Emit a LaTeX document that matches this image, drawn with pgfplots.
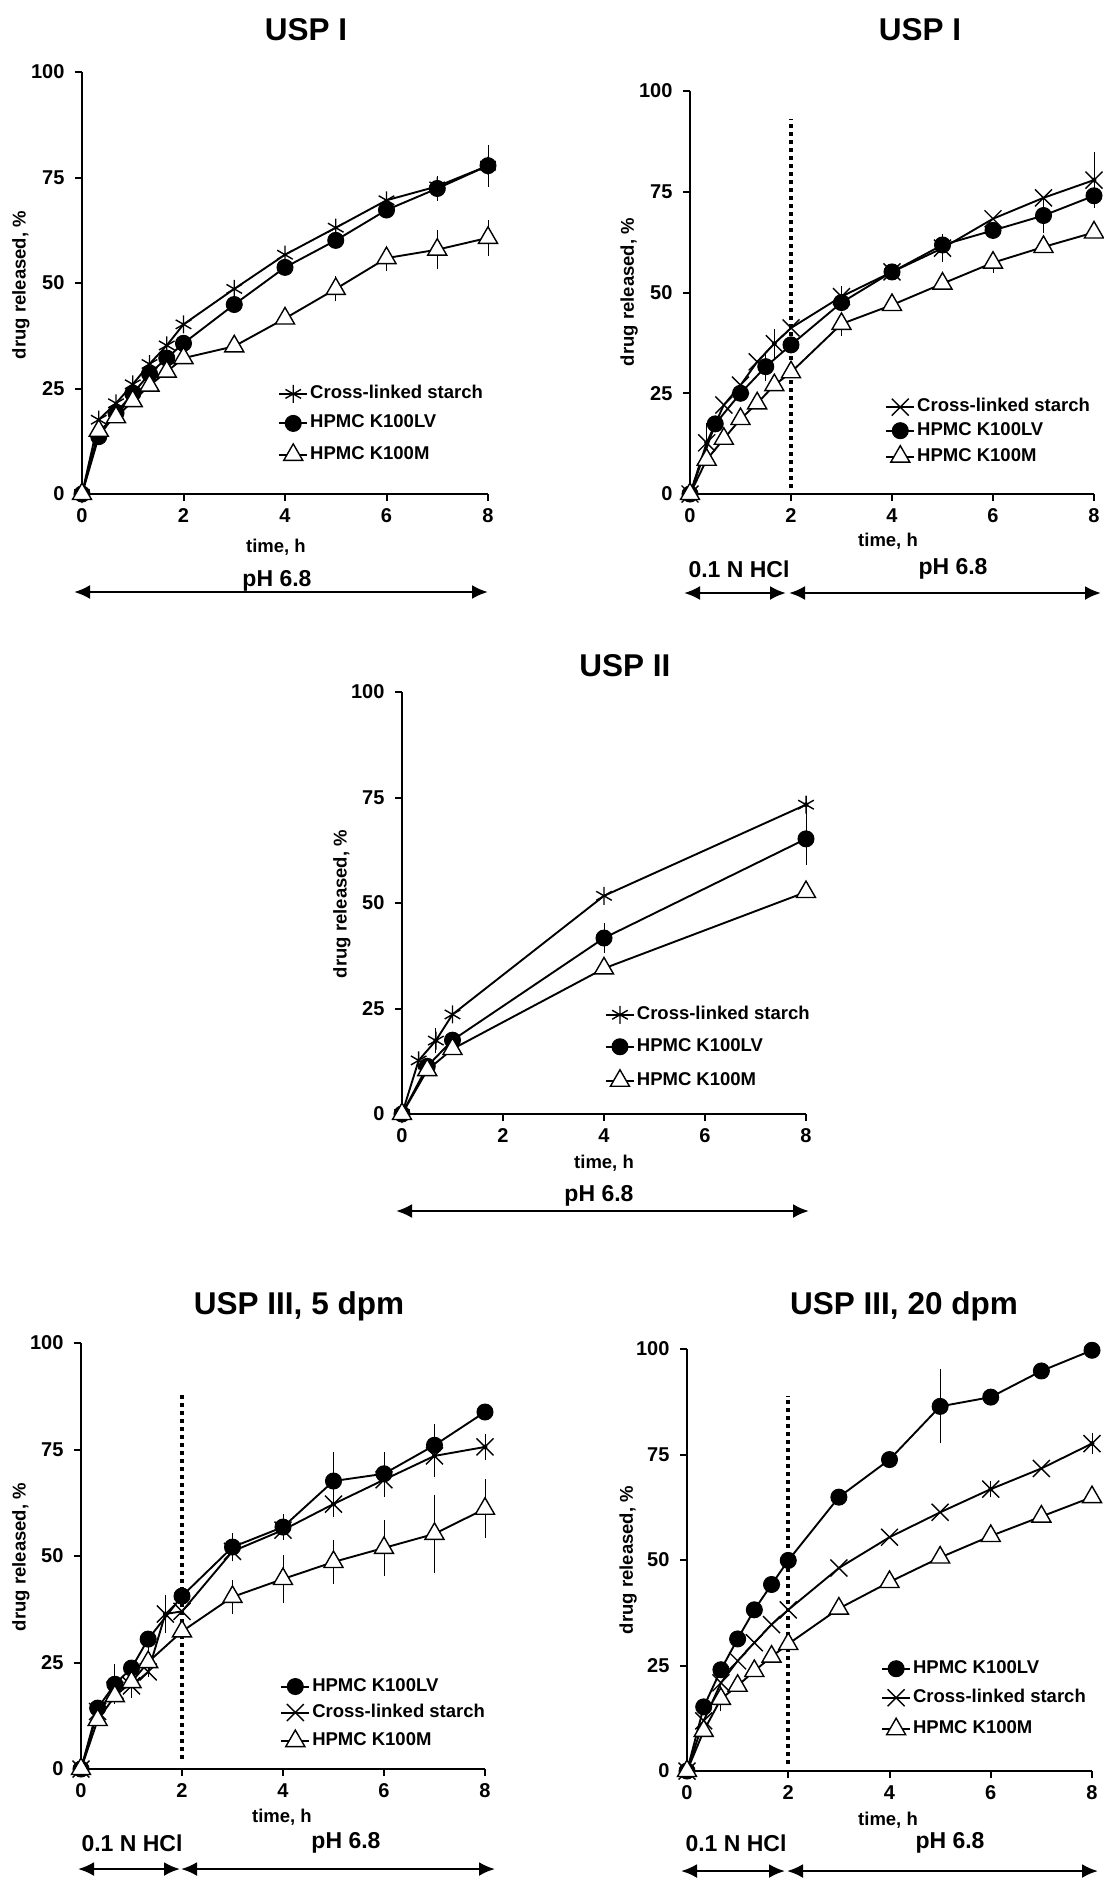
\documentclass[border=0pt]{standalone}
\usepackage{fontspec}
\setmainfont{Liberation Sans}
\usepackage{pgfplots}
\pgfplotsset{compat=1.18}
\usetikzlibrary{arrows.meta}
\newcommand\lbl{\fontsize{18.5bp}{22bp}\selectfont\bfseries}
\newcommand\tkl{\fontsize{20bp}{24bp}\selectfont\bfseries}
\newcommand\ttl{\fontsize{31.5bp}{36bp}\selectfont\bfseries}
\newcommand\phs{\fontsize{23bp}{27bp}\selectfont\bfseries}

\pgfplotsset{
  panel/.style={
    scale only axis, anchor=south west,
    xmin=0, xmax=8, ymin=0, ymax=100,
    axis x line*=bottom, axis y line*=left,
    axis line style={line width=2bp, -},
    xtick={0,2,4,6,8}, ytick={0,25,50,75,100},
    tick align=outside, major tick length=7bp,
    every tick/.style={line width=2bp, black},
    /pgf/number format/assume math mode=true,
    ticklabel style={font=\tkl},
    yticklabel style={xshift=-7bp},
    xticklabel style={yshift=-4bp},
    clip=false,
    legend cell align=left,
    legend style={draw=none, fill=none, font=\lbl, anchor=north west, inner sep=0pt, column sep=2bp,
       nodes={inner sep=0pt, text height=13bp, text depth=4bp}},
    legend image code/.code={\draw[mark repeat=2,mark phase=2] plot coordinates {(0bp,0bp)(14bp,0bp)(28bp,0bp)};},
    every axis plot/.append style={line width=1.9bp, black},
  },
  cl/.style={mark=asterisk, mark size=9bp, mark options={line width=1.4bp}},
  clx/.style={mark=x, mark size=12bp, mark options={line width=1.4bp}},
  lv/.style={mark=*, mark size=8bp, mark options={fill=black, line width=1bp}},
  km/.style={mark=triangle*, mark size=11bp, mark options={fill=white, draw=black, line width=1.4bp}},
  eb/.style={forget plot, only marks, mark=none, line width=0.9bp,
     error bars/.cd, y dir=both, y explicit,
     error bar style={line width=0.9bp}, error mark options={line width=0.9bp, mark size=4bp}},
  dotl/.style={forget plot, no marks, line width=4bp, dash pattern=on 4bp off 4bp},
}
\tikzset{ar/.style={line width=2.5bp, {Latex[length=16bp,width=14bp]}-{Latex[length=16bp,width=14bp]}}}

\begin{document}
\begin{tikzpicture}
\useasboundingbox (0,0) rectangle (1104bp,-1888bp);

% ---------------- Panel 1: USP I, pH 6.8 ----------------
\begin{axis}[panel, at={(82bp,-494bp)}, width=406bp, height=422bp,
  legend style={at={(axis description cs:0.483,0.259)}, row sep=12bp}]
\addplot[eb] coordinates {(7,72.9) +- (0,1.5) (8,77.8) +- (0,4)};
\addplot[eb] coordinates {(8,77.8) +- (0,4) (7,72.4) +- (0,2)};
\addplot[eb] coordinates {(5,48.6) +- (0,2) (6,55.9) +- (0,2) (7,57.9) +- (0,3.7) (8,60.7) +- (0,3.3)};
\addplot[cl] coordinates {(0,0)(0.33,17.6)(0.67,21.5)(1,26.0)(1.33,30.8)(1.67,35.2)(2,40.2)(3,48.6)(4,56.7)(5,63.1)(6,69.6)(7,72.9)(8,77.8)};
\addplot[lv] coordinates {(0,0)(0.33,13.6)(0.67,19.2)(1,23.8)(1.33,28.5)(1.67,32.2)(2,35.7)(3,44.9)(4,53.7)(5,60.1)(6,67.3)(7,72.4)(8,77.8)};
\addplot[km] coordinates {(0,0)(0.33,15.0)(0.67,18.2)(1,22.0)(1.33,25.7)(1.67,29.0)(2,32.2)(3,35.0)(4,41.6)(5,48.6)(6,55.9)(7,57.9)(8,60.7)};
\legend{Cross-linked starch, HPMC K100LV, HPMC K100M}
\end{axis}

% ---------------- Panel 2: USP I, HCl -> pH 6.8 ----------------
\begin{axis}[panel, at={(690bp,-494bp)}, width=404bp, height=403bp,
  legend style={at={(axis description cs:0.483,0.237)}, row sep=6.5bp}]
\addplot[dotl] coordinates {(2,1.5)(2,93)};
\addplot[eb] coordinates {(0.33,12.7) +- (0,4) (1.67,37.3) +- (0,2.7) (3,49.0) +- (0,1.5) (5,61.0) +- (0,2.5) (8,77.9) +- (0,6)};
\addplot[eb] coordinates {(1.5,31.6) +- (0,2.5) (7,69.1) +- (0,3.4)};
\addplot[eb] coordinates {(3,42.2) +- (0,2) (6,57.4) +- (0,1.5)};
\addplot[clx] coordinates {(0,0)(0.33,12.7)(0.67,22.1)(1,27.0)(1.33,32.8)(1.67,37.3)(2,41.2)(3,49.0)(4,55.1)(5,61.0)(6,68.3)(7,73.5)(8,77.9)};
\addplot[lv] coordinates {(0,0)(0.5,17.4)(1,25.0)(1.5,31.6)(2,37.0)(3,47.5)(4,55.1)(5,61.8)(6,65.4)(7,69.1)(8,74.0)};
\addplot[km] coordinates {(0,0)(0.33,8.5)(0.67,13.7)(1,18.6)(1.33,22.5)(1.67,27.0)(2,30.2)(3,42.2)(4,46.9)(5,52.2)(6,57.4)(7,61.3)(8,64.9)};
\legend{Cross-linked starch, HPMC K100LV, HPMC K100M}
\end{axis}

% ---------------- Panel 3: USP II ----------------
\begin{axis}[panel, at={(402bp,-1114bp)}, width=404bp, height=422bp,
  legend style={at={(axis description cs:0.502,0.257)}, row sep=14.5bp}]
\addplot[eb] coordinates {(0.67,17.4) +- (0,2) (8,73.3) +- (0,1)};
\addplot[eb] coordinates {(4,41.7) +- (0,2.5) (8,65.2) +- (0,5.3)};
\addplot[cl] coordinates {(0,0)(0.33,12.7)(0.67,17.4)(1,23.6)(4,51.7)(8,73.3)};
\addplot[lv] coordinates {(0,0)(0.5,11.3)(1,17.5)(4,41.7)(8,65.2)};
\addplot[km] coordinates {(0,0)(0.5,10.4)(1,15.4)(4,34.5)(8,52.6)};
\legend{Cross-linked starch, HPMC K100LV, HPMC K100M}
\end{axis}

% ---------------- Panel 4: USP III, 5 dpm ----------------
\begin{axis}[panel, at={(81bp,-1769bp)}, width=404bp, height=426bp,
  legend style={at={(axis description cs:0.493,0.214)}, row sep=9bp}]
\addplot[dotl] coordinates {(2,2.3)(2,88.5)};
\addplot[eb] coordinates {(0.67,19.9) +- (0,3.8) (3,52.1) +- (0,2.4) (4,56.8) +- (0,2.2) (5,67.6) +- (0,5.8) (6,69.3) +- (0,4.2) (7,76.0) +- (0,4)};
\addplot[eb] coordinates {(1,19.5) +- (0,1.8) (1.67,36.4) +- (0,3.6) (5,62.2) +- (0,2) (6,67.9) +- (0,3) (7,73.5) +- (0,4) (8,75.6) +- (0,2.2)};
\addplot[eb] coordinates {(1.33,25.1) +- (0,2.5) (3,40.4) +- (0,3) (4,44.6) +- (0,4.6) (5,48.6) +- (0,4.2) (6,51.9) +- (0,5.6) (7,55.2) +- (0,8.3) (8,61.1) +- (0,6)};
\addplot[lv] coordinates {(0,0)(0.33,14.3)(0.67,19.9)(1,23.7)(1.33,30.5)(2,40.6)(3,52.1)(4,56.8)(5,67.6)(6,69.3)(7,76.0)(8,83.8)};
\addplot[clx] coordinates {(0,0)(0.33,13.5)(0.67,18.5)(1,19.5)(1.33,22.8)(1.67,36.4)(2,37.0)(3,51.1)(4,56.1)(5,62.2)(6,67.9)(7,73.5)(8,75.6)};
\addplot[km] coordinates {(0,0)(0.33,11.5)(0.67,17.1)(1,20.4)(1.33,25.1)(2,32.3)(3,40.4)(4,44.6)(5,48.6)(6,51.9)(7,55.2)(8,61.1)};
\legend{HPMC K100LV, Cross-linked starch, HPMC K100M}
\end{axis}

% ---------------- Panel 5: USP III, 20 dpm ----------------
\begin{axis}[panel, at={(687bp,-1771bp)}, width=405bp, height=422bp,
  legend style={at={(axis description cs:0.479,0.263)}, row sep=12bp}]
\addplot[dotl] coordinates {(2,1.6)(2,88.9)};
\addplot[eb] coordinates {(5,86.4) +- (0,7.8)};
\addplot[eb] coordinates {(6,66.8) +- (0,1) (8,77.6) +- (0,1.5)};
\addplot[eb] coordinates {(0.67,17.1) +- (0,2)};
\addplot[lv] coordinates {(0,0)(0.33,15.2)(0.67,24.0)(1,31.3)(1.33,38.2)(1.67,44.2)(2,49.9)(3,64.9)(4,73.8)(5,86.4)(6,88.6)(7,94.8)(8,99.7)};
\addplot[clx] coordinates {(0,0)(0.33,11.9)(0.67,20.9)(1,26.1)(1.33,30.4)(1.67,34.7)(2,38.2)(3,48.1)(4,55.4)(5,61.3)(6,66.8)(7,71.7)(8,77.6)};
\addplot[km] coordinates {(0,0)(0.33,9.5)(0.67,17.1)(1,20.2)(1.33,23.7)(1.67,27.1)(2,30.1)(3,38.5)(4,44.8)(5,50.6)(6,55.7)(7,60.3)(8,64.9)};
\legend{HPMC K100LV, Cross-linked starch, HPMC K100M}
\end{axis}

% ---------------- Titles, labels, phase arrows ----------------
\begin{scope}[every node/.style={inner sep=0pt, anchor=center}]
\node[font=\ttl] at (306bp,-30bp) {USP I};
\node[font=\ttl] at (920bp,-30bp) {USP I};
\node[font=\ttl] at (625bp,-666bp) {USP II};
\node[font=\ttl] at (299bp,-1306bp) {USP III, 5 dpm};
\node[font=\ttl] at (904bp,-1306bp) {USP III, 20 dpm};

\node[font=\lbl, rotate=90] at (21bp,-285bp) {drug released, \%};
\node[font=\lbl, rotate=90] at (629bp,-292bp) {drug released, \%};
\node[font=\lbl, rotate=90] at (342bp,-904bp) {drug released, \%};
\node[font=\lbl, rotate=90] at (21bp,-1557bp) {drug released, \%};
\node[font=\lbl, rotate=90] at (628bp,-1560bp) {drug released, \%};

\node[font=\lbl] at (276bp,-547bp) {time, h};
\node[font=\lbl] at (888bp,-541bp) {time, h};
\node[font=\lbl] at (604bp,-1163bp) {time, h};
\node[font=\lbl] at (282bp,-1817bp) {time, h};
\node[font=\lbl] at (888bp,-1820bp) {time, h};

\node[font=\phs] at (277bp,-581bp) {pH 6.8};
\node[font=\phs] at (739bp,-569bp) {0.1 N HCl};
\node[font=\phs] at (953bp,-569bp) {pH 6.8};
\node[font=\phs] at (599bp,-1196bp) {pH 6.8};
\node[font=\phs] at (132bp,-1843bp) {0.1 N HCl};
\node[font=\phs] at (346bp,-1843bp) {pH 6.8};
\node[font=\phs] at (736bp,-1843bp) {0.1 N HCl};
\node[font=\phs] at (950bp,-1843bp) {pH 6.8};
\end{scope}

\draw[ar] (74bp,-592bp) -- (488bp,-592bp);
\draw[ar] (684bp,-593bp) -- (786bp,-593bp);
\draw[ar] (789bp,-593bp) -- (1101bp,-593bp);
\draw[ar] (396bp,-1211bp) -- (809bp,-1211bp);
\draw[ar] (78bp,-1869bp) -- (180bp,-1869bp);
\draw[ar] (181bp,-1869bp) -- (495bp,-1869bp);
\draw[ar] (681bp,-1871bp) -- (785bp,-1871bp);
\draw[ar] (787bp,-1871bp) -- (1098bp,-1871bp);
\end{tikzpicture}
\end{document}
